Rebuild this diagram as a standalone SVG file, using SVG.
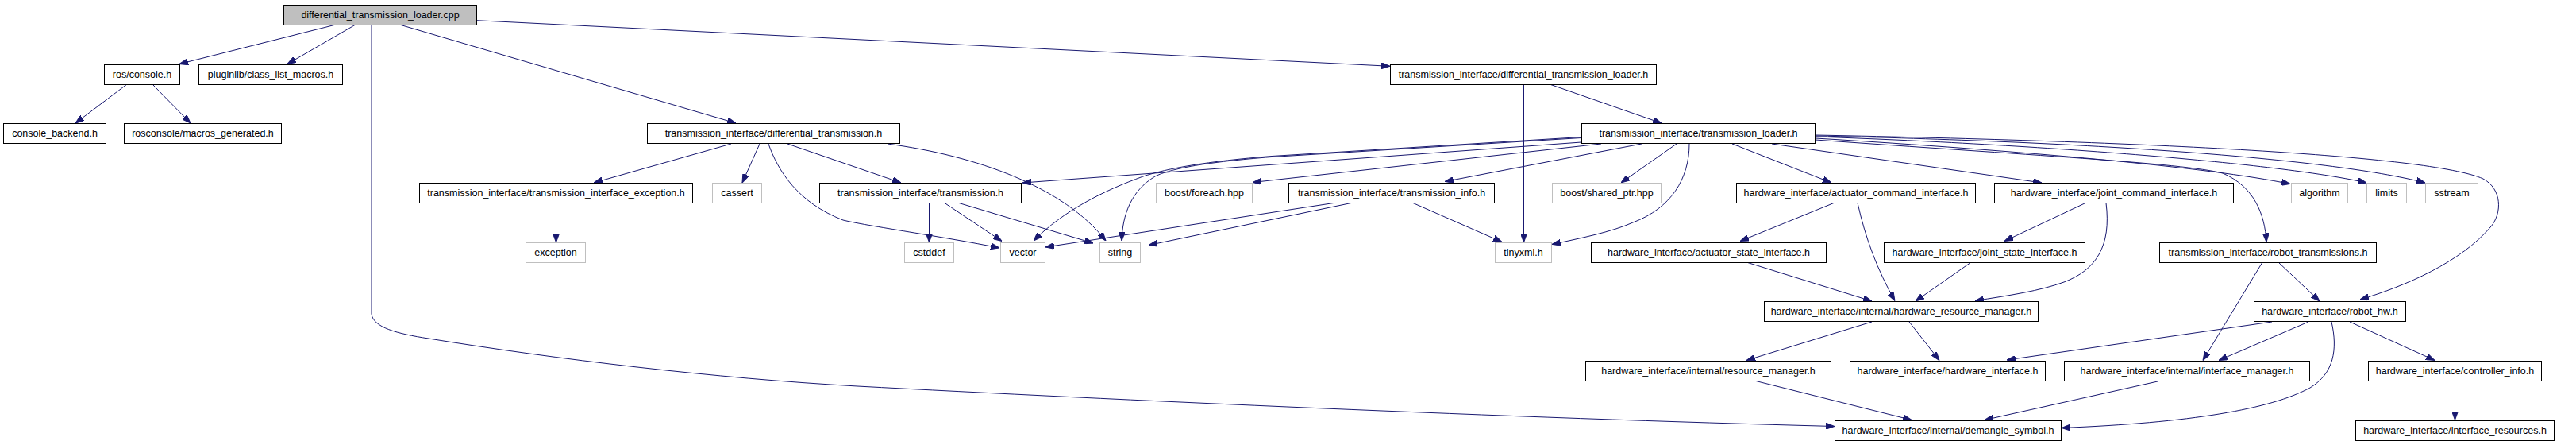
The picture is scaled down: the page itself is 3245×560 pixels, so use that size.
<svg xmlns="http://www.w3.org/2000/svg" width="3245" height="560" viewBox="0 0 3245 560">
<style>
.n rect{fill:#fff;stroke:#000;stroke-width:1}
.n.g rect{stroke:#bfbfbf}
.n.r rect{fill:#bfbfbf}
.n text{font-family:"Liberation Sans",Arial,Helvetica,sans-serif;font-size:12.5px;fill:#000;text-anchor:middle}
#edges path{fill:none;stroke:#191970;stroke-width:1;marker-end:url(#a)}
</style>
<defs>
<marker id="a" markerUnits="userSpaceOnUse" markerWidth="11" markerHeight="8" refX="11" refY="4" orient="auto" viewBox="0 0 11 8"><path d="M0,0 L11,4 L0,8 z" fill="#191970" stroke="#191970" stroke-width="1"/></marker>
</defs>
<rect width="3245" height="560" fill="#fff"/>
<g id="edges">
<path d="M421,31.5 L226,80.5"/>
<path d="M447,31.5 L362,80.5"/>
<path d="M505,31.5 L927,155"/>
<path d="M601,25.7 L1751,83.3"/>
<path d="M468,31.5 L468,395 C470,412 500,420 540,426 C700,452 900,476 1080,486 C1400,503 1900,526 2311,536.5"/>
<path d="M160,106 L95,155"/>
<path d="M192,106 L240,155"/>
<path d="M1952,106 L2093,155"/>
<path d="M1919.5,106 L1919.5,305"/>
<path d="M921,181 L748,230"/>
<path d="M957,181 L935,230"/>
<path d="M992,181 L1135,230"/>
<path d="M968,181 C980,215 1005,255 1062,277 C1090,284 1190,298 1259,312"/>
<path d="M1118,181 C1230,196 1340,235 1393,303"/>
<path d="M2068,181 L1820,228.5"/>
<path d="M1992,179 L1288,230"/>
<path d="M2017,181 L1578,229.5"/>
<path d="M1992,172.5 L1602,196.5 C1520,203 1470,212 1440,222 C1390,240 1340,265 1302,303"/>
<path d="M1992,173.5 L1602,197.5 C1520,204 1475,212 1455,222 C1425,240 1414,270 1413,303"/>
<path d="M2128,181 C2128,225 2105,262 2057,280 C2030,292 1990,300 1955,307.5"/>
<path d="M2112,181 L2042,230"/>
<path d="M2182,181 L2307,230"/>
<path d="M2232,181 L2572,230"/>
<path d="M2287,174 C2550,190 2780,210 2885,231.5"/>
<path d="M2287,172 C2600,183 2880,207 2981,230"/>
<path d="M2287,171 C2620,178 2930,198 3055,230"/>
<path d="M2287,170 C2700,178 3060,195 3128,225 C3152,238 3152,268 3138,285 C3100,330 3030,360 2973,377"/>
<path d="M2287,176 C2550,195 2750,205 2800,218 C2840,235 2853,270 2855,304.5"/>
<path d="M1680,255.5 L1317,311"/>
<path d="M1702,255.5 L1447,308.5"/>
<path d="M1780,255.5 L1892,304.5"/>
<path d="M1170.5,255.5 L1170.5,305"/>
<path d="M1190,255.5 L1262,303.5"/>
<path d="M1208,255.5 L1377,306"/>
<path d="M700.5,255.5 L700.5,305"/>
<path d="M2310,255.5 L2192,303.5"/>
<path d="M2340,255.5 C2350,300 2365,340 2387,378.5"/>
<path d="M2627,255.5 L2525,303.5"/>
<path d="M2653,255.5 C2660,310 2640,340 2600,355 C2570,366 2530,372 2488,378.5"/>
<path d="M2200,330 L2358,379"/>
<path d="M2483,330 L2413,379"/>
<path d="M2870,330 L2922,379"/>
<path d="M2850,330 L2775,453.5"/>
<path d="M2358,405 L2200,453.5"/>
<path d="M2405,405 L2443,453.5"/>
<path d="M2862,405 L2528,453"/>
<path d="M2908,405 L2795,453.5"/>
<path d="M2960,405 L3067,453.5"/>
<path d="M2937,405 C2945,440 2940,470 2910,488 C2860,515 2760,532 2597,538.5"/>
<path d="M2718,480 L2500,528.5"/>
<path d="M2212,479.5 L2408,528.5"/>
<path d="M3092.5,479.5 L3092.5,528.5"/>
</g>
<g id="n0" class="n r"><rect x="357.5" y="6.5" width="243" height="25"/><text x="479" y="22.5">differential_transmission_loader.cpp</text></g>
<g id="n1" class="n"><rect x="131.5" y="81.5" width="95" height="25"/><text x="179" y="97.5">ros/console.h</text></g>
<g id="n2" class="n"><rect x="250.5" y="81.5" width="181" height="25"/><text x="341" y="97.5">pluginlib/class_list_macros.h</text></g>
<g id="n3" class="n"><rect x="1751.5" y="81.5" width="335" height="25"/><text x="1919" y="97.5">transmission_interface/differential_transmission_loader.h</text></g>
<g id="n4" class="n"><rect x="4.5" y="155.5" width="129" height="25"/><text x="69" y="171.5">console_backend.h</text></g>
<g id="n5" class="n"><rect x="156.5" y="155.5" width="198" height="25"/><text x="255.5" y="171.5">rosconsole/macros_generated.h</text></g>
<g id="n6" class="n"><rect x="815.5" y="155.5" width="318" height="25"/><text x="974.5" y="171.5">transmission_interface/differential_transmission.h</text></g>
<g id="n7" class="n"><rect x="1992.5" y="155.5" width="294" height="25"/><text x="2139.5" y="171.5">transmission_interface/transmission_loader.h</text></g>
<g id="n8" class="n"><rect x="528.5" y="230.5" width="344" height="25"/><text x="700.5" y="246.5">transmission_interface/transmission_interface_exception.h</text></g>
<g id="n9" class="n g"><rect x="897.5" y="230.5" width="62" height="25"/><text x="928.5" y="246.5">cassert</text></g>
<g id="n10" class="n"><rect x="1032.5" y="230.5" width="254" height="25"/><text x="1159.5" y="246.5">transmission_interface/transmission.h</text></g>
<g id="n11" class="n g"><rect x="1456.5" y="230.5" width="121" height="25"/><text x="1517" y="246.5">boost/foreach.hpp</text></g>
<g id="n12" class="n"><rect x="1623.5" y="230.5" width="259" height="25"/><text x="1753" y="246.5">transmission_interface/transmission_info.h</text></g>
<g id="n13" class="n g"><rect x="1955.5" y="230.5" width="137" height="25"/><text x="2024" y="246.5">boost/shared_ptr.hpp</text></g>
<g id="n14" class="n"><rect x="2187.5" y="230.5" width="301" height="25"/><text x="2338" y="246.5">hardware_interface/actuator_command_interface.h</text></g>
<g id="n15" class="n"><rect x="2512.5" y="230.5" width="301" height="25"/><text x="2663" y="246.5">hardware_interface/joint_command_interface.h</text></g>
<g id="n16" class="n g"><rect x="2886.5" y="230.5" width="71" height="25"/><text x="2922" y="246.5">algorithm</text></g>
<g id="n17" class="n g"><rect x="2981.5" y="230.5" width="50" height="25"/><text x="3006.5" y="246.5">limits</text></g>
<g id="n18" class="n g"><rect x="3055.5" y="230.5" width="66" height="25"/><text x="3088.5" y="246.5">sstream</text></g>
<g id="n19" class="n g"><rect x="662.5" y="305.5" width="75" height="25"/><text x="700" y="321.5">exception</text></g>
<g id="n20" class="n g"><rect x="1139.5" y="305.5" width="62" height="25"/><text x="1170.5" y="321.5">cstddef</text></g>
<g id="n21" class="n g"><rect x="1260.5" y="305.5" width="56" height="25"/><text x="1288.5" y="321.5">vector</text></g>
<g id="n22" class="n g"><rect x="1385.5" y="305.5" width="51" height="25"/><text x="1411" y="321.5">string</text></g>
<g id="n23" class="n g"><rect x="1883.5" y="305.5" width="71" height="25"/><text x="1919" y="321.5">tinyxml.h</text></g>
<g id="n24" class="n"><rect x="2004.5" y="305.5" width="296" height="25"/><text x="2152.5" y="321.5">hardware_interface/actuator_state_interface.h</text></g>
<g id="n25" class="n"><rect x="2373.5" y="305.5" width="253" height="25"/><text x="2500" y="321.5">hardware_interface/joint_state_interface.h</text></g>
<g id="n26" class="n"><rect x="2720.5" y="305.5" width="273" height="25"/><text x="2857" y="321.5">transmission_interface/robot_transmissions.h</text></g>
<g id="n27" class="n"><rect x="2222.5" y="379.5" width="345" height="25"/><text x="2395" y="395.5">hardware_interface/internal/hardware_resource_manager.h</text></g>
<g id="n28" class="n"><rect x="2839.5" y="379.5" width="191" height="25"/><text x="2935" y="395.5">hardware_interface/robot_hw.h</text></g>
<g id="n29" class="n"><rect x="1997.5" y="454.5" width="309" height="25"/><text x="2152" y="470.5">hardware_interface/internal/resource_manager.h</text></g>
<g id="n30" class="n"><rect x="2330.5" y="454.5" width="246" height="25"/><text x="2453.5" y="470.5">hardware_interface/hardware_interface.h</text></g>
<g id="n31" class="n"><rect x="2600.5" y="454.5" width="309" height="25"/><text x="2755" y="470.5">hardware_interface/internal/interface_manager.h</text></g>
<g id="n32" class="n"><rect x="2983.5" y="454.5" width="218" height="25"/><text x="3092.5" y="470.5">hardware_interface/controller_info.h</text></g>
<g id="n33" class="n"><rect x="2311.5" y="529.5" width="285" height="25"/><text x="2454" y="545.5">hardware_interface/internal/demangle_symbol.h</text></g>
<g id="n34" class="n"><rect x="2967.5" y="529.5" width="250" height="25"/><text x="3092.5" y="545.5">hardware_interface/interface_resources.h</text></g>
</svg>
